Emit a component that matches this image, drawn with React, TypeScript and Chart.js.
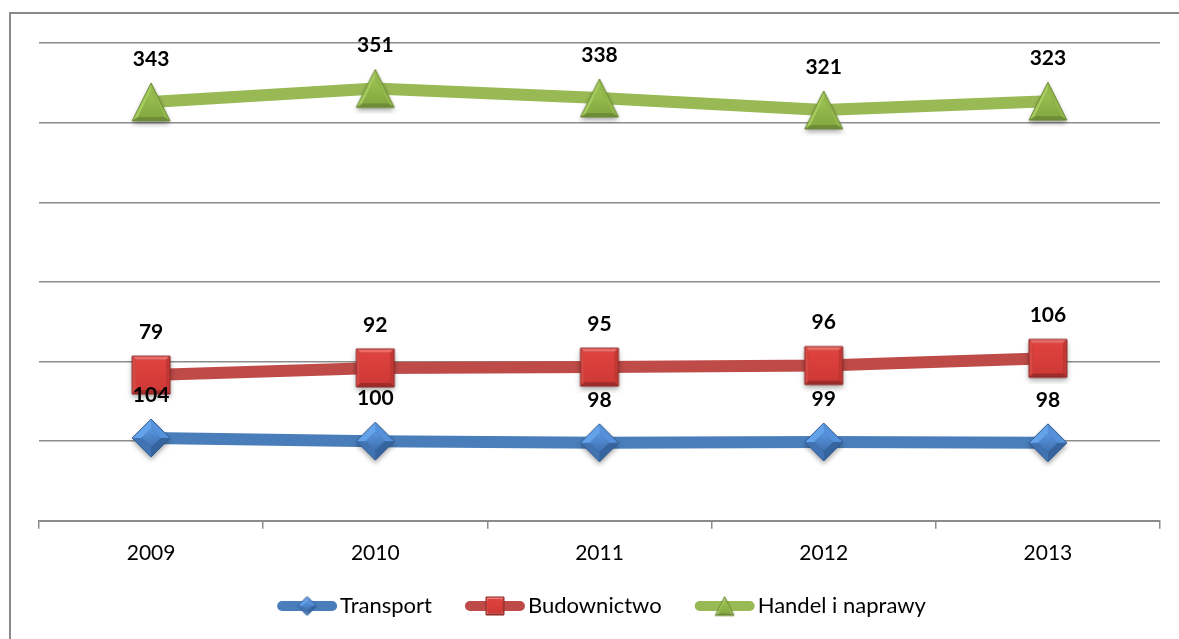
import React, { useEffect, useRef } from 'react';
import { Chart, registerables } from 'chart.js';

Chart.register(...registerables);

// ---------- data ----------
const years = ['2009', '2010', '2011', '2012', '2013'];
const transport = [104, 100, 98, 99, 98];
const budownictwo = [79, 92, 95, 96, 106];
const handel = [343, 351, 338, 321, 323];
const seriesNames = ['Transport', 'Budownictwo', 'Handel i naprawy'];
const yMin = 0;
const yMax = 600;
const yStep = 100;

// ---------- styles ----------
const FONT = 'Lato, "Noto Sans", sans-serif';
const GRID = '#8c8c8c';
const LINE_COLORS = ['#4A7EBB', '#BE4B48', '#98B954'];

type Pt = [number, number];

function bevelMarker(kind: 'diamond' | 'square' | 'triangle', s: number, pad: number, shadow: boolean) {
  const W = Math.ceil(s + pad * 2);
  const c = document.createElement('canvas');
  c.width = W;
  c.height = W;
  const ctx = c.getContext('2d')!;
  const cx = W / 2;
  const cy = W / 2;
  const r = s / 2;
  let outer: Pt[];
  let k: number;
  let facets: string[];
  let face: [string, string];
  let edge: string;
  let centroid: Pt;
  if (kind === 'diamond') {
    outer = [[cx - r, cy], [cx, cy - r], [cx + r, cy], [cx, cy + r]];
    k = 0.5;
    facets = ['#64a2ea', '#5590da', '#36649f', '#4172b2'];
    face = ['#5a96e0', '#3f70b0'];
    edge = '#2f5a92';
    centroid = [cx, cy];
  } else if (kind === 'square') {
    outer = [[cx - r, cy - r], [cx + r, cy - r], [cx + r, cy + r], [cx - r, cy + r]];
    k = 0.8;
    facets = ['#ee6e6a', '#c23834', '#9e2c2a', '#d84a46'];
    face = ['#e0423e', '#cf3a36'];
    edge = '#8a2826';
    centroid = [cx, cy];
  } else {
    outer = [[cx, cy - r], [cx + r, cy + r], [cx - r, cy + r]];
    k = 0.68;
    facets = ['#93b84c', '#6f8c36', '#a6cc5e'];
    face = ['#9fc655', '#86ab42'];
    edge = '#6a8632';
    centroid = [cx, cy + r / 3];
  }
  const inner: Pt[] = outer.map(([x, y]) => [centroid[0] + (x - centroid[0]) * k, centroid[1] + (y - centroid[1]) * k]);
  const poly = (pts: Pt[]) => {
    ctx.beginPath();
    ctx.moveTo(pts[0][0], pts[0][1]);
    for (let i = 1; i < pts.length; i++) ctx.lineTo(pts[i][0], pts[i][1]);
    ctx.closePath();
  };
  if (shadow) {
    ctx.save();
    ctx.shadowColor = 'rgba(0,0,0,0.35)';
    ctx.shadowBlur = s * 0.15;
    ctx.shadowOffsetY = s * 0.08;
    poly(outer);
    ctx.fillStyle = edge;
    ctx.fill();
    ctx.restore();
  }
  for (let i = 0; i < outer.length; i++) {
    const j = (i + 1) % outer.length;
    poly([outer[i], outer[j], inner[j], inner[i]]);
    ctx.fillStyle = facets[i];
    ctx.fill();
  }
  const g = ctx.createLinearGradient(0, cy - r * k, 0, cy + r * k);
  g.addColorStop(0, face[0]);
  g.addColorStop(1, face[1]);
  poly(inner);
  ctx.fillStyle = g;
  ctx.fill();
  poly(outer);
  ctx.strokeStyle = edge;
  ctx.lineWidth = 1;
  ctx.stroke();
  return c;
}

export default function App() {
  const ref = useRef<HTMLCanvasElement>(null);

  useEffect(() => {
    const canvas = ref.current;
    if (!canvas) return;

    const bigMarkers = [
      bevelMarker('diamond', 38, 7, true),
      bevelMarker('square', 38, 7, true),
      bevelMarker('triangle', 38, 7, true),
    ];
    const smallMarkers = [
      bevelMarker('diamond', 19, 2, false),
      bevelMarker('square', 18, 2, false),
      bevelMarker('triangle', 19, 2, false),
    ];
    const rawSeries = [transport, budownictwo, handel];

    const framePlugin = {
      id: 'frame',
      beforeDraw(chart: any) {
        const ctx = chart.ctx;
        ctx.save();
        ctx.fillStyle = '#ffffff';
        ctx.fillRect(0, 0, chart.width, chart.height);
        ctx.strokeStyle = '#8a8a8a';
        ctx.lineWidth = 2;
        ctx.beginPath();
        ctx.moveTo(10, chart.height);
        ctx.lineTo(10, 13);
        ctx.lineTo(chart.width, 13);
        ctx.stroke();
        ctx.restore();
      },
    };

    const labelPlugin = {
      id: 'valueLabels',
      afterDatasetsDraw(chart: any) {
        const ctx = chart.ctx;
        ctx.save();
        ctx.font = `bold 21px ${FONT}`;
        ctx.fillStyle = '#000000';
        ctx.textAlign = 'center';
        ctx.textBaseline = 'middle';
        chart.data.datasets.forEach((ds: any, di: number) => {
          const meta = chart.getDatasetMeta(di);
          meta.data.forEach((el: any, i: number) => {
            ctx.fillText(String(rawSeries[di][i]), el.x, el.y - 43);
          });
        });
        ctx.restore();
      },
    };

    const legendPlugin = {
      id: 'lineLegend',
      afterDraw(chart: any) {
        const ctx = chart.ctx;
        ctx.save();
        ctx.font = `22px ${FONT}`;
        const symW = 60;
        const textGap = 3;
        const itemGap = 33;
        const widths = seriesNames.map((n) => ctx.measureText(n).width);
        const total = widths.reduce((a, w) => a + symW + textGap + w, 0) + itemGap * (seriesNames.length - 1);
        const area = chart.chartArea;
        let x = (area.left + area.right) / 2 + 2 - total / 2;
        const y = chart.height - 33;
        seriesNames.forEach((name, i) => {
          ctx.strokeStyle = LINE_COLORS[i];
          ctx.lineWidth = 10;
          ctx.lineCap = 'round';
          ctx.beginPath();
          ctx.moveTo(x + 5, y);
          ctx.lineTo(x + symW - 5, y);
          ctx.stroke();
          const m = smallMarkers[i];
          ctx.drawImage(m, x + symW / 2 - m.width / 2, y - m.height / 2);
          ctx.fillStyle = '#000000';
          ctx.textAlign = 'left';
          ctx.textBaseline = 'middle';
          ctx.fillText(name, x + symW + textGap, y);
          x += symW + textGap + widths[i] + itemGap;
        });
        ctx.restore();
      },
    };

    const chart = new Chart(canvas, {
      type: 'line',
      data: {
        labels: years,
        datasets: rawSeries.map((d, i) => ({
          label: seriesNames[i],
          data: d,
          borderColor: LINE_COLORS[i],
          backgroundColor: LINE_COLORS[i],
          borderWidth: 12,
          pointStyle: bigMarkers[i] as any,
          pointRadius: 19,
          pointHoverRadius: 19,
          fill: false,
          tension: 0,
        })),
      },
      options: {
        responsive: false,
        animation: false,
        devicePixelRatio: 1,
        layout: { autoPadding: false, padding: { left: 39, right: 19, top: 43, bottom: 61 } },
        plugins: {
          legend: { display: false },
          tooltip: { enabled: false },
        },
        scales: {
          x: {
            offset: true,
            afterFit: (scale: any) => {
              scale.paddingLeft = 0;
              scale.paddingRight = 0;
            },
            grid: {
              offset: true,
              drawOnChartArea: false,
              drawTicks: true,
              tickLength: 8,
              color: GRID,
              lineWidth: 1.5,
            },
            border: { display: true, color: GRID, width: 2 },
            ticks: { font: { family: FONT, size: 21 }, color: '#000000', padding: 12, maxRotation: 0 },
          },
          y: {
            stacked: true,
            min: yMin,
            max: yMax,
            ticks: { stepSize: yStep, display: false },
            grid: { drawTicks: false, color: GRID, lineWidth: 1.5 },
            border: { display: false },
          },
        },
      },
      plugins: [framePlugin, labelPlugin, legendPlugin],
    });

    return () => chart.destroy();
  }, []);

  return (
    <div style={{ position: 'absolute', left: 0, top: 0, width: 1179, height: 639, background: '#fff' }}>
      <canvas ref={ref} width={1179} height={639} style={{ display: 'block' }} />
    </div>
  );
}
